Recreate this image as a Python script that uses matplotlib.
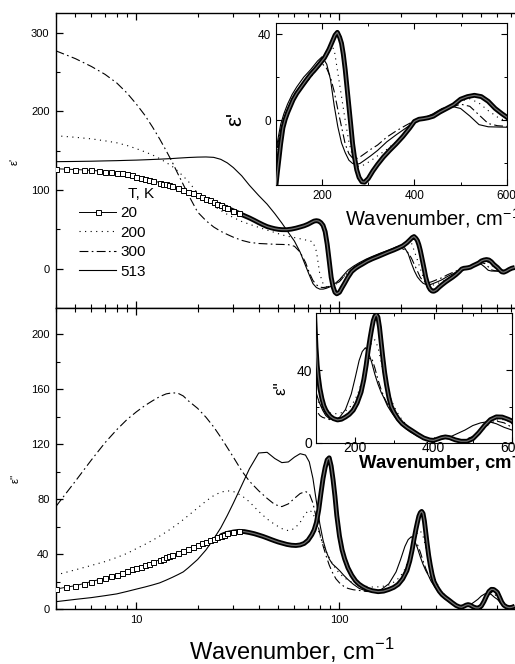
import numpy as np
import matplotlib
matplotlib.use('Agg')
import matplotlib.pyplot as plt
from matplotlib.ticker import FixedLocator, NullFormatter, MultipleLocator, LogLocator
from matplotlib.lines import Line2D

plt.rcParams['font.family'] = ['Liberation Sans', 'DejaVu Sans']
plt.rcParams['mathtext.fontset'] = 'custom'
plt.rcParams['mathtext.rm'] = 'Liberation Sans'
plt.rcParams['mathtext.bf'] = 'Liberation Sans:bold'

# ---------------- data: 20 K (dense grid, drawn with open squares) ----------------
wn20 = [4, 4.5, 5, 5.5, 6, 6.5, 7, 7.5, 8, 8.5, 9, 9.5, 10, 10.5, 11, 11.5, 12,
        13, 13.5, 14, 14.5, 15, 16, 17, 18, 19, 20,
        21, 22, 23, 24, 25, 26, 27, 28, 30, 32,
        34, 36, 38, 40, 42, 44, 46, 48, 50, 52,
        55, 58, 61, 64, 67, 70, 73, 75, 77, 79,
        81, 83, 85, 87, 89, 91, 93, 95, 97, 100,
        103, 106, 110, 115, 120, 125, 130, 137, 145, 155,
        165, 175, 185, 195, 205, 215, 222, 228, 233, 238,
        242, 246, 250, 254, 258, 262, 266, 270, 275, 280,
        286, 292, 300, 310, 320, 333, 346, 360, 375, 390,
        400, 410, 420, 430, 441, 455, 470, 485, 500, 515,
        530, 545, 560, 575, 590, 600, 615, 630, 645, 665,
        685, 705, 730]
eps1_20 = [127, 126.5, 126, 125.5, 125, 124.3, 123.5, 122.8, 122, 121, 120, 118.5, 117, 115.8, 114.5, 113.3, 112,
           109.5, 108.2, 107, 105.8, 104.7, 102.5, 100.2, 98, 95.7, 93.5,
           91.2, 89, 86.8, 84.5, 82.5, 80.5, 78.7, 77, 73.5, 70.3,
           67.3, 64.5, 61.5, 58.5, 55.8, 53.5, 52, 50.8, 50, 49.6,
           49.5, 50.3, 51.5, 53, 54.5, 56.5, 59, 60.5, 61, 60.5,
           58.5, 55, 47, 31, 10, -11, -23, -30, -32, -30,
           -24, -18.5, -11, -3.5, 0.5, 3.5, 6, 9.5, 12.5, 15.5,
           18.5, 21.3, 23.7, 26.3, 29, 33, 36.5, 39.5, 40.8, 38.5,
           35.7, 30.5, 23.5, 15, 6.5, -2, -10.8, -17, -23, -26.5,
           -28.5, -28.7, -27, -23.5, -20.5, -17, -14, -11, -7.5, -3.5,
           -0.5, 0.5, 0.8, 1.2, 1.9, 3.8, 5.5, 7.2, 9.8, 11,
           11.6, 11, 8.8, 5.5, 3, 1.5, -1.5, -4, -4.5, -3,
           -1, 0.5, 1.5]
eps2_20 = [14.5, 15.8, 17, 18.5, 20, 21.3, 22.5, 23.8, 25, 26.2, 27.5, 28.8, 29.8, 30.8, 31.9, 33, 34,
           35.8, 36.7, 37.5, 38.4, 39.2, 41, 42.5, 43.8, 45, 46.3,
           47.7, 49, 50, 51.2, 52.3, 53.2, 54.2, 55, 56, 56.5,
           56.3, 55.6, 54.8, 53.8, 52.8, 51.7, 50.6, 49.6, 48.7, 48,
           47, 46.4, 46.2, 46.6, 47.7, 50, 54, 57.5, 63, 72,
           84, 95, 103, 108.5, 110, 104, 94, 82, 68, 53,
           43, 36.5, 30, 24.5, 20.5, 18, 16.3, 14.5, 13.3, 12.6,
           13, 14.2, 15.7, 18, 22, 28, 35, 43, 51, 58,
           63, 67.5, 70, 71, 69.5, 64, 56, 48, 39, 32,
           25, 20, 16.5, 13, 10.5, 8.3, 6.5, 4.5, 2.6, 1.5,
           1.3, 2, 2.8, 3.2, 2.8, 1.6, 0.8, 0.8, 2.2, 5.5,
           9.5, 12.8, 14.3, 14.2, 13, 12, 8.5, 5, 2.8, 1.5,
           1, 1.2, 2]

# ---------------- data: 200 K, 300 K, 513 K (common grid) ----------------
wn = [4, 5, 6, 7, 8, 9, 10, 11, 12, 13, 14, 15, 16, 17, 18,
      20, 22, 24, 26, 28, 30,
      33, 36, 40, 44, 48, 52, 56, 60, 64, 68,
      71, 74, 77, 80, 83, 86, 89, 92, 96, 100,
      105, 110, 117, 125, 135, 145, 160, 175, 190, 200,
      210, 218, 226, 234, 242, 250, 258, 266, 274, 282,
      292, 305, 320, 340, 360, 380, 400, 420, 440, 460,
      480, 500, 520, 540, 560, 580, 600, 620, 640, 665,
      690, 730]
eps1_200 = [169, 167, 165, 162.5, 160, 156.5, 152.5, 148.5, 144.5, 140, 135, 130, 124, 117.5, 111,
            96, 87, 80, 74, 69, 65,
            60, 56.5, 52.5, 49, 46, 43, 41, 39.5, 38, 36.5,
            35.5, 34, 22, -7, -19, -23, -24, -23, -20, -16,
            -10, -5, 0.5, 5, 9, 12, 16.5, 20.5, 24, 27,
            31, 34.5, 33, 22, 11, 0, -10, -17, -21, -21.5,
            -20.5, -18.8, -16.5, -13.5, -10, -5.5, -0.5, 0.8, 1.9, 4,
            6.5, 9, 10, 8, 4.5, 1.5, -0.5, -3, -4.3, -3.2,
            -1, 1.2]
eps1_300 = [277, 267, 257, 247, 236, 223, 209, 195, 180, 165, 150, 135.5, 120.5, 107, 94,
            72, 61, 53, 47.5, 43.5, 40,
            36, 33.5, 32, 31.5, 31, 30.8, 30.5, 28.5, 21, 8,
            -5, -15, -20.5, -23.5, -24, -23.5, -22.5, -21, -19, -16.5,
            -10, -5, 0.5, 5, 9, 12, 16, 20, 24, 26.3,
            24, 20, 13.5, 5, -3, -11, -15.5, -17.5, -17.8, -17,
            -15.5, -13.5, -11.5, -7.8, -5, -2.5, -0.2, 0.8, 2, 4,
            6, 7.5, 6.5, 2.5, -1.5, -2.5, -2.8, -4, -4.5, -3.3,
            -1, 1.2]
eps1_513 = [136, 136.3, 136.6, 137, 137.3, 137.7, 138, 138.4, 138.8, 139.2, 139.6, 140, 140.5, 140.9, 141.3,
            141.8, 142, 141.5, 139, 134.5, 128.5,
            118, 106, 93, 82, 70, 58, 46, 35, 21, 4,
            -8, -19, -24, -26, -26, -25, -23.5, -21.5, -18, -14,
            -7.8, -2, 3, 7.5, 12, 15.5, 20, 23.5, 27.5, 29.5,
            26, 19, 7, -3, -10.5, -15, -18.5, -20, -20.5, -20,
            -18.5, -16.5, -14, -10, -6.8, -3.8, -0.8, 1, 3, 5.5,
            6.5, 5.5, 2, -2, -3, -3.1, -3.2, -4, -4.3, -3.2,
            -1, 1.2]
eps2_200 = [24.7, 28.5, 31.7, 34.5, 37.5, 40.5, 44, 47, 50, 53, 56, 59, 62, 65, 68,
            73.5, 78.5, 82.5, 85, 86, 85.5,
            82.5, 78, 71, 65.5, 61.5, 58.5, 57, 58.5, 63, 69.5,
            72, 70, 62, 53.5, 47, 42, 37.5, 33.5, 29, 26,
            23, 21, 19, 17.5, 16.5, 16, 16.2, 17.5, 20.5, 24,
            29, 35, 42, 50, 55.5, 57, 53, 45, 37, 30,
            23.5, 17.5, 12.5, 8, 5, 2.5, 1.3, 2.3, 2.8, 1.8,
            1.3, 2.5, 6, 10, 12.5, 12.8, 11, 7.5, 4.5, 2.2,
            1.2, 1.5]
eps2_300 = [74.4, 93, 108.5, 121, 130.5, 138, 143.5, 148, 151.5, 154.5, 156.5, 157.3, 157, 155, 151.5,
            146, 139.5, 132.5, 125, 117.5, 110.5,
            100.5, 93, 86, 80.5, 76, 74.5, 76.5, 80.5, 84, 85.5,
            84, 77, 66, 55, 46, 38.5, 32, 27, 22, 19,
            16.5, 15, 14, 13.5, 12.8, 12.5, 13, 14.5, 18, 21.5,
            27, 33, 40, 46.5, 47, 41.5, 35, 29.5, 25, 21.5,
            18, 14.5, 11, 7.2, 4.5, 2.2, 1.2, 2.2, 2.6, 1.8,
            1.6, 3.5, 7, 10.5, 12, 11, 8.5, 5.5, 3.3, 1.8,
            1.2, 1.5]
eps2_513 = [5.3, 7, 8.3, 9.7, 11, 12.8, 14.5, 16, 17.5, 19, 21, 23, 25, 27, 30,
            36, 43, 51, 59, 68, 77,
            90, 102, 113.5, 114, 109.5, 106.5, 107, 110.5, 113, 112,
            107, 95, 78, 62, 50, 42, 36.5, 33, 30.5, 28,
            24.5, 21.5, 18, 15, 13.2, 12.6, 14, 18.3, 27, 36,
            45.5, 50.5, 52.6, 50, 44.5, 38, 32.5, 28, 24.5, 20.5,
            17, 13, 9.5, 6, 3.5, 1.8, 1.3, 2, 3, 5,
            7, 9.5, 11, 11.7, 10.5, 8.5, 7, 4.5, 3, 1.8,
            1.2, 1.5]

temps = ['20', '200', '300', '513']

# ---------------- layout ----------------
W, H = 515, 664
fig = plt.figure(figsize=(W / 100, H / 100), dpi=100)


def box(x0, y0, x1, y1):
    return [x0 / W, 1 - y1 / H, (x1 - x0) / W, (y1 - y0) / H]


xr = 55.7 + 203 * np.log10(1000 / 4)
ax1 = fig.add_axes(box(55.7, 13, xr, 308))
ax2 = fig.add_axes(box(55.7, 308, xr, 609))

sq = dict(color='k', lw=0.7, marker='s', ms=3.6, mfc='white', mec='k', mew=0.7)
st200 = dict(color='k', lw=0.8, ls=(0, (1, 4)))
st300 = dict(color='k', lw=0.8, ls=(0, (8, 3, 1.5, 3)))
st513 = dict(color='k', lw=0.8, ls='-')

wn20a = np.array(wn20)


def draw(ax, e20, e200, e300, e513, band_from, mark_to):
    e20 = np.array(e20)
    ax.plot(wn, e513, zorder=2, **st513)
    ax.plot(wn, e300, zorder=2, **st300)
    ax.plot(wn, e200, zorder=2, **st200)
    lo = wn20a <= mark_to
    hi = wn20a >= band_from
    ax.plot(wn20a[lo], e20[lo], zorder=4, **sq)
    ax.plot(wn20a[hi], e20[hi], color='k', lw=3.5, solid_capstyle='butt', zorder=3)
    ax.plot(wn20a[hi], e20[hi], color='#6e6e6e', lw=0.9, zorder=3.5)


draw(ax1, eps1_20, eps1_200, eps1_300, eps1_513, 26, 32)
draw(ax2, eps2_20, eps2_200, eps2_300, eps2_513, 26, 32)

for ax in (ax1, ax2):
    ax.set_xscale('log')
    ax.set_xlim(4, 1000)
    ax.xaxis.set_major_locator(FixedLocator([10, 100]))
    ax.xaxis.set_minor_locator(LogLocator(base=10, subs=np.arange(2, 10)))
    ax.xaxis.set_minor_formatter(NullFormatter())
    ax.tick_params(which='both', direction='in', top=True, right=True, labelsize=8, pad=4.5)
    ax.tick_params(which='major', length=5, width=0.9)
    ax.tick_params(which='minor', length=2.8, width=0.8)
    for s in ax.spines.values():
        s.set_linewidth(1.0)

ax1.set_ylim(-50, 325)
ax1.yaxis.set_major_locator(FixedLocator([0, 100, 200, 300]))
ax1.yaxis.set_minor_locator(MultipleLocator(50))
ax1.tick_params(labelbottom=False)
ax2.set_ylim(0, 219)
ax2.yaxis.set_major_locator(MultipleLocator(40))
ax2.yaxis.set_minor_locator(MultipleLocator(20))
ax2.set_xticklabels(['10', '100'])

fig.text(15 / W, 1 - 161 / H, "ε'", rotation=90, ha='center', va='center', fontsize=8)
fig.text(16 / W, 1 - 478 / H, "ε''", rotation=90, ha='center', va='center', fontsize=8)
fig.text(292 / W, 1 - 660 / H, 'Wavenumber, cm$^{-1}$', ha='center', va='baseline', fontsize=17)

# legend
handles = [Line2D([], [], **sq), Line2D([], [], **st200), Line2D([], [], **st300), Line2D([], [], **st513)]
leg = ax1.legend(handles, temps, loc='upper left', bbox_to_anchor=(79 / W, 1 - 206 / H),
                 bbox_transform=fig.transFigure, frameon=False, fontsize=11, handlelength=2.45,
                 handletextpad=0.25, labelspacing=0.36, borderpad=0, borderaxespad=0, numpoints=1)
fig.text(128 / W, 1 - 193.5 / H, 'T, K', ha='left', va='center', fontsize=11)

# ---------------- insets ----------------
ins1 = fig.add_axes(box(276, 23.3, 506.7, 185))
draw(ins1, eps1_20, eps1_200, eps1_300, eps1_513, 60, 0)
ins1.set_xlim(100, 600)
ins1.set_ylim(-30, 45)
ins1.xaxis.set_major_locator(FixedLocator([200, 400, 600]))
ins1.xaxis.set_minor_locator(MultipleLocator(100))
ins1.yaxis.set_major_locator(FixedLocator([0, 40]))
ins1.yaxis.set_minor_locator(FixedLocator([-20, 20]))
ins1.tick_params(which='both', direction='in', top=True, right=True, labelsize=8.5, pad=3.5)
ins1.tick_params(which='major', length=4, width=0.8)
ins1.tick_params(which='minor', length=2.5, width=0.7)
for s in ins1.spines.values():
    s.set_linewidth(0.8)
fig.text(345 / W, 1 - 225 / H, 'Wavenumber, cm$^{-1}$', ha='left', va='baseline', fontsize=14.5)
fig.text(236 / W, 1 - 119 / H, "ε'", rotation=90, ha='center', va='center', fontsize=16)

ins2 = fig.add_axes(box(316, 312.7, 512, 442.7))
draw(ins2, eps2_20, eps2_200, eps2_300, eps2_513, 60, 0)
ins2.set_xlim(100, 600)
ins2.set_ylim(0, 72)
ins2.xaxis.set_major_locator(FixedLocator([200, 400, 600]))
ins2.xaxis.set_minor_locator(MultipleLocator(100))
ins2.yaxis.set_major_locator(FixedLocator([0, 40]))
ins2.yaxis.set_minor_locator(FixedLocator([20, 60]))
ins2.tick_params(which='both', direction='in', top=True, right=True, labelsize=10, pad=2.5)
ins2.tick_params(axis='x', which='both', pad=-1)
ins2.tick_params(which='major', length=4, width=0.8)
ins2.tick_params(which='minor', length=2.5, width=0.7)
for s in ins2.spines.values():
    s.set_linewidth(0.8)
fig.text(358 / W, 1 - 469 / H, 'Wavenumber, cm$^{\\mathbf{-1}}$', ha='left', va='baseline',
         fontsize=13.3, fontweight='bold')
fig.text(281 / W, 1 - 388 / H, "ε''", rotation=90, ha='center', va='center', fontsize=12)

fig.savefig('out.png', dpi=100)
